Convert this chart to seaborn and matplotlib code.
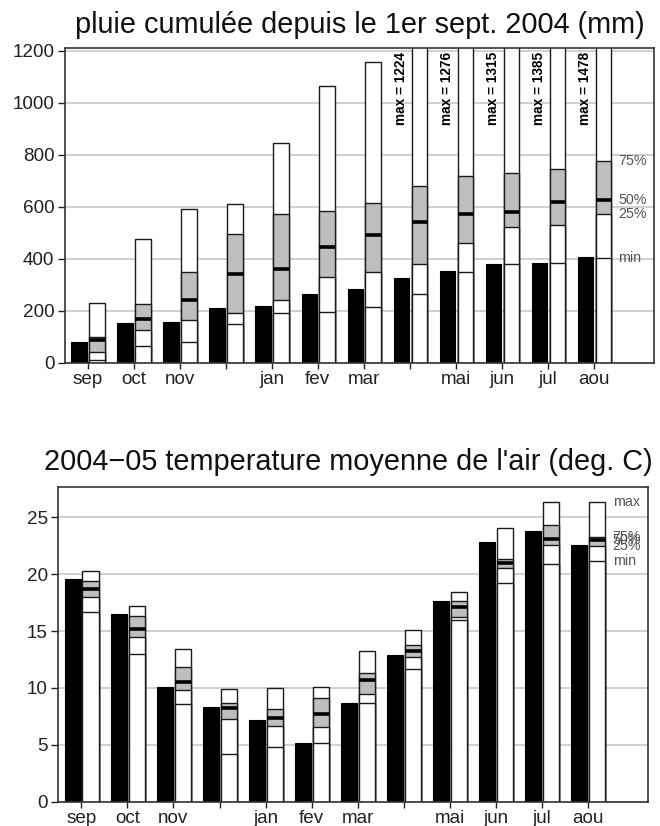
import numpy as np
import matplotlib
matplotlib.use('Agg')
import matplotlib.pyplot as plt
import seaborn as sns

# ---------------- data ----------------
months = ['sep', 'oct', 'nov', 'dec', 'jan', 'fev', 'mar', 'avr', 'mai', 'jun', 'jul', 'aou']
tick_labels = ['sep', 'oct', 'nov', '', 'jan', 'fev', 'mar', '', 'mai', 'jun', 'jul', 'aou']

# cumulative rainfall (mm)
rain_obs = [80, 154, 157, 211, 218, 266, 282, 326, 351, 380, 384, 405]
rain_min = [12, 65, 78, 147, 192, 196, 215, 265, 349, 378, 384, 403]
rain_q25 = [42, 124, 163, 192, 242, 329, 350, 379, 462, 521, 528, 572]
rain_med = [87, 169, 242, 340, 359, 443, 490, 541, 572, 581, 616, 627]
rain_q75 = [100, 225, 350, 493, 571, 585, 614, 680, 718, 728, 744, 777]
rain_max = [230, 474, 591, 611, 846, 1064, 1156, 1224, 1276, 1315, 1385, 1478]

# mean air temperature (deg C)
temp_obs = [19.56, 16.48, 10.06, 8.36, 7.16, 5.19, 8.71, 12.88, 17.68, 22.87, 23.81, 22.55]
temp_min = [16.66, 12.96, 8.56, 4.20, 4.84, 5.16, 8.65, 11.70, 15.98, 19.26, 20.93, 21.20]
temp_q25 = [18.03, 14.51, 9.82, 7.25, 6.66, 6.54, 9.47, 12.75, 16.22, 20.55, 22.55, 22.52]
temp_med = [18.70, 15.22, 10.50, 8.24, 7.33, 7.69, 10.70, 13.28, 17.15, 20.97, 23.13, 23.02]
temp_q75 = [19.38, 16.33, 11.85, 8.71, 8.13, 9.12, 11.29, 13.75, 17.68, 21.37, 24.36, 23.25]
temp_max = [20.32, 17.24, 13.40, 9.91, 10.03, 10.11, 13.28, 15.07, 18.47, 24.10, 26.36, 26.36]

title_rain = "pluie cumulée depuis le 1er sept. 2004 (mm)"
title_temp = "2004\u221205 temperature moyenne de l'air (deg. C)"
stat_names = ['max', '75%', '50%', '25%', 'min']

# ---------------- style ----------------
sns.set_theme(style='white')
plt.rcParams['font.family'] = ['Liberation Sans', 'DejaVu Sans']

GRAY = '#bebebe'
EDGE = '#1a1a1a'
SPINE = '#333333'

fig = plt.figure(figsize=(6.6, 8.26), dpi=100)
ax1 = fig.add_axes([64.7 / 660, 1 - 362.7 / 826, 589.6 / 660, 314.7 / 826])
ax2 = fig.add_axes([58.3 / 660, 1 - 801.7 / 826, 590.0 / 660, 315.0 / 826])


def draw_panel(ax, obs, vmin, q25, med, q75, vmax, ytop, yticks, width):
    pos = np.arange(len(months))
    x_obs = pos - 0.19
    x_st = pos + 0.20
    sns.barplot(x=x_obs, y=obs, native_scale=True, orient='x', width=width,
                color='black', saturation=1, edgecolor='black', linewidth=0.8,
                errorbar=None, ax=ax)
    # layered stat bars: max (white), 75% (gray), 25% (white), min (white)
    for vals, col in [(vmax, 'white'), (q75, GRAY), (q25, 'white'), (vmin, 'white')]:
        sns.barplot(x=x_st, y=vals, native_scale=True, orient='x', width=width,
                    color=col, saturation=1, edgecolor=EDGE, linewidth=1.0,
                    errorbar=None, ax=ax)
    ax.hlines(med, x_st - width / 2, x_st + width / 2, colors='black',
              linewidth=2.6, zorder=5)

    ax.set_xlim(-0.5, 12.31)
    ax.set_ylim(0, ytop)
    ax.set_xticks(pos)
    ax.set_xticklabels(tick_labels)
    ax.set_yticks(yticks)
    ax.set_xlabel('')
    ax.set_ylabel('')
    ax.tick_params(axis='both', direction='out', colors='#222222', width=1.0,
                   labelsize=13.6, bottom=True, left=True)
    ax.tick_params(axis='y', length=5, pad=2.5)
    ax.tick_params(axis='x', length=4.5, pad=1.5)
    ax.yaxis.grid(True, color='#c8c8c8', linewidth=1.2)
    ax.xaxis.grid(False)
    ax.set_axisbelow(True)
    for sp in ax.spines.values():
        sp.set_visible(True)
        sp.set_color(SPINE)
        sp.set_linewidth(1.2)

    # max labels for bars exceeding the top of the axes
    for i in range(len(months)):
        if vmax[i] > ytop:
            ax.text(x_obs[i], ytop * 0.988, f"max = {vmax[i]}", rotation=90,
                    ha='center', va='top', fontsize=9.8, fontweight='bold',
                    color='black', zorder=6)

    # legend labels next to the last stat bar (only those inside the axes)
    x_lab = pos[-1] + 0.20 + width / 2 + 0.16
    for name, val in zip(stat_names, [vmax[-1], q75[-1], med[-1], q25[-1], vmin[-1]]):
        if val <= ytop:
            ax.text(x_lab, val, name, ha='left', va='center', fontsize=10.3,
                    color='#555555', zorder=6)


draw_panel(ax1, rain_obs, rain_min, rain_q25, rain_med, rain_q75, rain_max,
           1210, [0, 200, 400, 600, 800, 1000, 1200], 0.33)
draw_panel(ax2, temp_obs, temp_min, temp_q25, temp_med, temp_q75, temp_max,
           27.7, [0, 5, 10, 15, 20, 25], 0.35)

fig.text(359.5 / 660, 1 - 33.3 / 826, title_rain, ha='center', va='baseline',
         fontsize=20.8, color='#111111')
fig.text(348.3 / 660, 1 - 470 / 826, title_temp, ha='center', va='baseline',
         fontsize=20.8, color='#111111')

fig.savefig('out.png', dpi=100)
